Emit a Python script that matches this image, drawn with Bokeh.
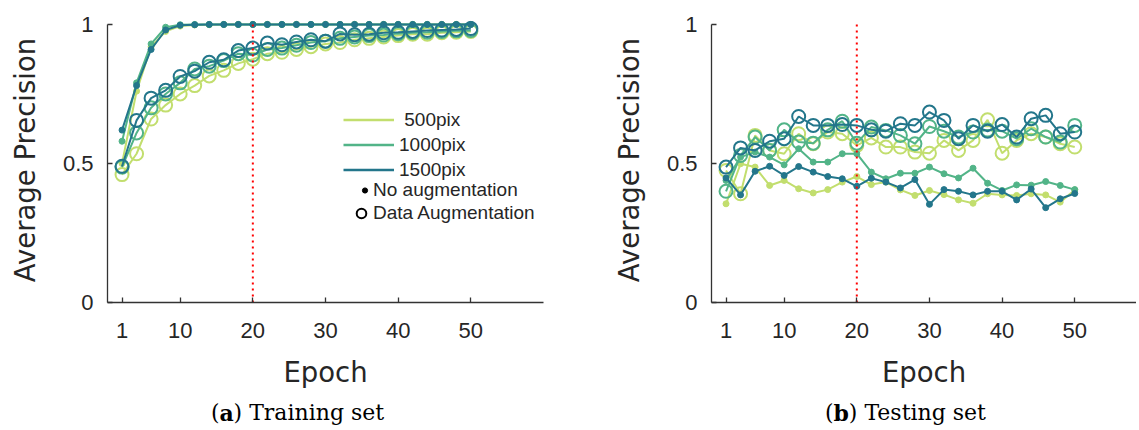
import numpy as np
from bokeh.plotting import figure
from bokeh.models import FixedTicker, Legend, LegendItem, Label, ColumnDataSource, Range1d
from bokeh.layouts import row, column
from bokeh.embed import file_html
from bokeh.resources import INLINE

# ---------------- data ----------------
epochs = [2, 4, 6, 8, 10, 12, 14, 16, 18, 20, 22, 24, 26, 28, 30,
          32, 34, 36, 38, 40, 42, 44, 46, 48, 50]
x_ticks = [2, 10, 20, 30, 40, 50]
x_tick_labels = ["1", "10", "20", "30", "40", "50"]
y_ticks = [0, 0.5, 1]
y_tick_labels = ["0", "0.5", "1"]
split_epoch = 20
series_names = [" 500pix", "1000pix", "1500pix"]
series_colors = ["#c2de6e", "#52b488", "#23768b"]

train_noaug_500 = [0.50, 0.76, 0.92, 0.975, 0.994, 0.998, 0.999, 1.0, 1.0, 1.0, 1.0, 1.0, 1.0,
                   1.0, 1.0, 1.0, 1.0, 1.0, 1.0, 1.0, 1.0, 1.0, 1.0, 1.0, 1.0]
train_noaug_1000 = [0.58, 0.79, 0.93, 0.99, 0.999, 1.0, 1.0, 1.0, 1.0, 1.0, 1.0, 1.0, 1.0,
                    1.0, 1.0, 1.0, 1.0, 1.0, 1.0, 1.0, 1.0, 1.0, 1.0, 1.0, 1.0]
train_noaug_1500 = [0.62, 0.78, 0.91, 0.98, 0.997, 0.999, 1.0, 1.0, 1.0, 1.0, 1.0, 1.0, 1.0,
                    1.0, 1.0, 1.0, 1.0, 1.0, 1.0, 1.0, 1.0, 1.0, 1.0, 1.0, 1.0]
train_aug_500 = [0.46, 0.535, 0.66, 0.71, 0.75, 0.78, 0.815, 0.835, 0.86, 0.875, 0.895, 0.90,
                 0.91, 0.92, 0.93, 0.935, 0.945, 0.95, 0.955, 0.96, 0.965, 0.965, 0.97, 0.972, 0.975]
train_aug_1000 = [0.487, 0.61, 0.70, 0.75, 0.79, 0.84, 0.85, 0.87, 0.895, 0.89, 0.91, 0.915,
                  0.925, 0.935, 0.94, 0.95, 0.955, 0.96, 0.962, 0.967, 0.97, 0.972, 0.975, 0.977, 0.978]
train_aug_1500 = [0.49, 0.655, 0.735, 0.763, 0.813, 0.832, 0.864, 0.873, 0.906, 0.915, 0.933, 0.927,
                  0.937, 0.945, 0.94, 0.966, 0.963, 0.965, 0.97, 0.972, 0.975, 0.978, 0.98, 0.982, 0.985]

test_noaug_500 = [0.355, 0.499, 0.487, 0.421, 0.439, 0.409, 0.394, 0.406, 0.433, 0.453, 0.424, 0.433,
                  0.405, 0.385, 0.403, 0.388, 0.369, 0.357, 0.391, 0.387, 0.385, 0.391, 0.387, 0.361, 0.405]
test_noaug_1000 = [0.439, 0.523, 0.541, 0.523, 0.495, 0.553, 0.505, 0.505, 0.535, 0.535, 0.469, 0.445,
                   0.465, 0.465, 0.487, 0.463, 0.448, 0.483, 0.429, 0.403, 0.423, 0.422, 0.435, 0.421, 0.406]
test_noaug_1500 = [0.448, 0.387, 0.472, 0.490, 0.457, 0.489, 0.469, 0.453, 0.445, 0.418, 0.447, 0.433,
                   0.412, 0.442, 0.353, 0.406, 0.400, 0.387, 0.400, 0.400, 0.369, 0.408, 0.341, 0.373, 0.392]
test_aug_500 = [0.475, 0.391, 0.601, 0.547, 0.535, 0.607, 0.571, 0.613, 0.607, 0.565, 0.592, 0.559,
                0.559, 0.541, 0.537, 0.583, 0.547, 0.583, 0.657, 0.537, 0.583, 0.607, 0.595, 0.571, 0.559]
test_aug_1000 = [0.400, 0.529, 0.595, 0.547, 0.621, 0.577, 0.573, 0.621, 0.652, 0.573, 0.631, 0.619,
                 0.601, 0.571, 0.633, 0.616, 0.595, 0.613, 0.620, 0.616, 0.589, 0.625, 0.595, 0.577, 0.637]
test_aug_1500 = [0.487, 0.556, 0.547, 0.580, 0.589, 0.669, 0.637, 0.637, 0.640, 0.637, 0.621, 0.616,
                 0.643, 0.637, 0.685, 0.655, 0.589, 0.637, 0.616, 0.640, 0.595, 0.661, 0.673, 0.607, 0.613]

train_noaug = [train_noaug_500, train_noaug_1000, train_noaug_1500]
train_aug = [train_aug_500, train_aug_1000, train_aug_1500]
test_noaug = [test_noaug_500, test_noaug_1000, test_noaug_1500]
test_aug = [test_aug_500, test_aug_1000, test_aug_1500]

TXT = "#262626"
AXC = "#333333"
TICK_FONT = "Liberation Sans"
LABEL_FONT = "DejaVu Sans"


def make_fig(border_left, border_right, frame_width, x_end):
    p = figure(frame_width=frame_width, frame_height=285,
               min_border_left=border_left, min_border_right=border_right,
               min_border_top=17, min_border_bottom=88,
               x_range=Range1d(0, x_end), y_range=Range1d(0, 1.025),
               output_backend="svg", toolbar_location=None)
    p.outline_line_color = None
    p.xgrid.visible = False
    p.ygrid.visible = False
    p.background_fill_color = "white"
    p.border_fill_color = "white"

    for ax in (p.xaxis[0], p.yaxis[0]):
        ax.axis_line_color = AXC
        ax.axis_line_width = 1.3
        ax.major_tick_line_color = AXC
        ax.major_tick_line_width = 1.3
        ax.major_tick_in = 5
        ax.major_tick_out = 0
        ax.minor_tick_line_color = None
        ax.major_label_text_font = TICK_FONT
        ax.major_label_text_font_size = "22px"
        ax.major_label_text_color = TXT
        ax.axis_label_text_font = LABEL_FONT
        ax.axis_label_text_font_size = "27.5px"
        ax.axis_label_text_font_style = "normal"
        ax.axis_label_text_color = TXT

    p.xaxis.ticker = FixedTicker(ticks=x_ticks)
    p.xaxis.major_label_overrides = dict(zip(x_ticks, x_tick_labels))
    p.xaxis.major_label_standoff = 20
    p.xaxis.axis_label = "Epoch"
    p.xaxis.axis_label_standoff = 15

    p.yaxis.ticker = FixedTicker(ticks=y_ticks)
    p.yaxis.major_label_overrides = dict(zip(y_ticks, y_tick_labels))
    p.yaxis.major_label_standoff = 14
    p.yaxis.bounds = (0, 1)
    p.yaxis.axis_label = "Average Precision"
    p.yaxis.axis_label_standoff = 19
    return p


def draw_series(p, noaug, aug):
    for vals_n, vals_a, c in zip(noaug, aug, series_colors):
        src_n = ColumnDataSource(dict(x=epochs, y=vals_n))
        src_a = ColumnDataSource(dict(x=epochs, y=vals_a))
        p.line("x", "y", source=src_a, line_color=c, line_width=2)
        p.scatter("x", "y", source=src_a, marker="circle", size=13,
                  fill_color=None, line_color=c, line_width=2)
        p.line("x", "y", source=src_n, line_color=c, line_width=2)
        p.scatter("x", "y", source=src_n, marker="circle", size=6,
                  fill_color=c, line_color=c)
    p.segment(x0=[split_epoch], y0=[0], x1=[split_epoch], y1=[1],
              line_color="#ff0000", line_width=2, line_dash="2 4")


def caption_fig(width, letter, rest, x_paren, x_letter, x_rest):
    c = figure(frame_width=width, frame_height=38, min_border=0,
               x_axis_type=None, y_axis_type=None,
               x_range=Range1d(0, width), y_range=Range1d(0, 38),
               output_backend="svg", toolbar_location=None)
    c.outline_line_color = None
    c.background_fill_color = "white"
    c.border_fill_color = "white"
    common = dict(x_units="screen", y_units="screen", y=16,
                  text_font="DejaVu Serif", text_font_size="22px",
                  text_color="black", text_baseline="alphabetic")
    c.add_layout(Label(x=x_paren, text="(", text_align="right", **common))
    c.add_layout(Label(x=x_letter, text=letter, text_align="center",
                       text_font_style="bold", **common))
    c.add_layout(Label(x=x_rest, text=rest, text_align="left", **common))
    return c


# ---------------- left: training ----------------
p1 = make_fig(107, 30, 436, 60)
draw_series(p1, train_noaug, train_aug)

# legend (dummy renderers only carry styles)
def dummy():
    return ColumnDataSource(dict(x=np.array([np.nan]), y=np.array([np.nan])))

line_rs = [p1.line("x", "y", source=dummy(), line_color=c, line_width=2.5)
           for c in series_colors]
dot_r = p1.scatter("x", "y", source=dummy(), marker="circle",
                   fill_color="black", line_color="black", size=6)
ring_r = p1.scatter("x", "y", source=dummy(), marker="circle",
                    fill_color=None, line_color="black", line_width=2, size=12)

leg_common = dict(padding=0, margin=0, border_line_alpha=0, background_fill_alpha=0,
                  label_text_font=TICK_FONT, label_text_font_size="19px",
                  label_text_color=TXT)
leg_lines = Legend(items=[LegendItem(label=n, renderers=[r]) for n, r in zip(series_names, line_rs)],
                   location=(236, 121), glyph_width=51, glyph_height=23, label_height=23,
                   spacing=2, label_standoff=5, **leg_common)
leg_dot = Legend(items=[LegendItem(label="No augmentation", renderers=[dot_r])],
                 location=(251, 101), glyph_width=13, glyph_height=22, label_height=22,
                 label_standoff=2, **leg_common)
leg_ring = Legend(items=[LegendItem(label="Data Augmentation", renderers=[ring_r])],
                  location=(242, 76), glyph_width=24, glyph_height=26, label_height=26,
                  label_standoff=0, **leg_common)
p1.add_layout(leg_lines)
p1.add_layout(leg_dot)
p1.add_layout(leg_ring)

# ---------------- right: testing ----------------
p2 = make_fig(138, 0, 425, 58.5)
draw_series(p2, test_noaug, test_aug)

c1 = caption_fig(573, "a", ") Training set", 219.1, 226.1, 233.1)
c2 = caption_fig(563, "b", ") Testing set", 260.1, 267.7, 275.3)

layout = column(row(p1, p2), row(c1, c2))
open("out.html", "w").write(file_html(layout, INLINE))
